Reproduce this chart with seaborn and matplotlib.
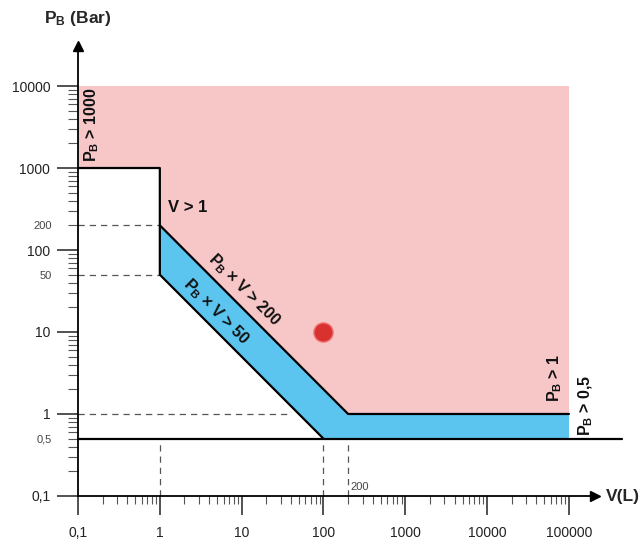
import matplotlib
matplotlib.use('Agg')
import matplotlib.pyplot as plt
import seaborn as sns

# tick values and labels
v_ticks = [0.1, 1, 10, 100, 1000, 10000, 100000]
v_labels = ['0,1', '1', '10', '100', '1000', '10000', '100000']
p_ticks = [0.1, 1, 10, 100, 1000, 10000]
p_labels = ['0,1', '1', '10', '100', '1000', '10000']
p_extra = [0.5, 50, 200]
p_extra_labels = ['0,5', '50', '200']

# coloured zones
pink_v = [0.1, 0.1, 100000, 100000, 200, 1, 1]
pink_p = [1000, 10000, 10000, 1, 1, 200, 1000]
blue_v = [1, 1, 200, 100000, 100000, 100]
blue_p = [50, 200, 1, 1, 0.5, 0.5]

# boundary lines
upper_v = [1, 200, 100000]
upper_p = [200, 1, 1]
lower_v = [0.1, 1, 1, 100]
lower_p = [1000, 1000, 50, 0.5]
base_v = [0.1, 450000]
base_p = [0.5, 0.5]

# point
point_v = [100]
point_p = [10]

sns.set_theme(style='white')
plt.rcParams['font.family'] = ['Liberation Sans', 'DejaVu Sans']
plt.rcParams['mathtext.fontset'] = 'custom'
plt.rcParams['mathtext.rm'] = 'Liberation Sans'
plt.rcParams['mathtext.bf'] = 'Liberation Sans:bold'

fig = plt.figure(figsize=(6.4, 5.41), dpi=100)
ax = fig.add_axes([0, 0, 1, 1])
ax.set_xscale('log')
ax.set_yscale('log')
ax.set_xlim(10 ** -1.9532, 10 ** 5.868)
ax.set_ylim(10 ** -1.549, 10 ** 5.049)
ax.patch.set_alpha(0)

ax.fill(pink_v, pink_p, color='#f7c6c7', lw=0, zorder=1)
ax.fill(blue_v, blue_p, color='#5bc5ef', lw=0, zorder=1)

# dashed helper lines
dash = dict(color='#555555', lw=0.9, ls=(0, (5, 4)), zorder=2)
ax.plot([0.1, 1], [200, 200], **dash)
ax.plot([0.1, 1], [50, 50], **dash)
ax.plot([0.1, 40], [1, 1], **dash)
for xv in [1, 100, 200]:
    ax.plot([xv, xv], [0.1, 0.44], **dash)

for vv, pp in [(upper_v, upper_p), (lower_v, lower_p), (base_v, base_p)]:
    sns.lineplot(x=vv, y=pp, sort=False, estimator=None, color='black',
                 lw=1.6, ax=ax, zorder=3)
ax.lines[-1].set_clip_on(False)

sns.scatterplot(x=point_v, y=point_p, s=190, color='#d93030',
                edgecolor='#f07070', linewidth=1, ax=ax, zorder=4)

# axes as arrows
for side in ['top', 'right']:
    ax.spines[side].set_visible(False)
ax.spines['left'].set_position(('data', 0.1))
ax.spines['bottom'].set_position(('data', 0.1))
ax.spines['left'].set_bounds(0.1, 28000)
ax.spines['bottom'].set_bounds(0.1, 190000)
for side in ['left', 'bottom']:
    ax.spines[side].set_color('black')
    ax.spines[side].set_linewidth(1.3)
    ax.spines[side].set_zorder(5)
ax.plot([0.1], [31000], marker='^', ms=7, color='black', clip_on=False)
ax.plot([208000], [0.1], marker='>', ms=7, color='black', clip_on=False)

ax.set_xticks(v_ticks, v_labels)
ax.set_yticks(p_ticks, p_labels)
x_minor = [m * 10 ** e for e in range(-1, 5) for m in range(2, 10)]
y_minor = [m * 10 ** e for e in range(-1, 4) for m in range(2, 10)]
ax.set_xticks(x_minor, minor=True)
ax.set_yticks(y_minor, ['' if v not in p_extra else p_extra_labels[p_extra.index(v)]
                        for v in y_minor], minor=True)
ax.tick_params(axis='x', which='major', direction='out', length=13.5, width=1.1,
               labelsize=10, pad=8, colors='#222222', bottom=True)
ax.tick_params(axis='x', which='minor', direction='out', length=5.5, width=0.8,
               color='#555555', bottom=True)
ax.tick_params(axis='y', which='major', direction='out', length=15, width=1.1,
               labelsize=10, pad=5, colors='#222222', left=True)
ax.tick_params(axis='y', which='minor', direction='out', length=7, width=0.8,
               labelsize=8, pad=12, color='#555555', labelcolor='#444444', left=True)

ax.text(212, 0.128, '200', fontsize=8, color='#444444', ha='left', va='center')

bold = dict(fontsize=11.5, fontweight='bold', color='#111111', ha='center', va='center')
ax.text(0.148, 3340, r'$\mathbf{P_B}$ > 1000', rotation=90, **bold)
ax.text(1.26, 334, 'V > 1', fontsize=12, fontweight='bold', color='#111111',
        ha='left', va='center')
ax.text(10.7, 32.5, r'$\mathbf{P_B}$ × V > 200', rotation=-45,
        rotation_mode='anchor', **bold)
ax.text(4.85, 17.5, r'$\mathbf{P_B}$ × V > 50', rotation=-45,
        rotation_mode='anchor', **bold)
ax.text(67400, 2.75, r'$\mathbf{P_B}$ > 1', rotation=90, **bold)
ax.text(161000, 1.29, r'$\mathbf{P_B}$ > 0,5', rotation=90, **bold)

fig.text(78 / 640, 1 - 18 / 541, r'$\mathbf{P_B}$ (Bar)', fontsize=12.5,
         fontweight='bold', ha='center', va='center')
fig.text(606 / 640, 1 - 496 / 541, 'V(L)', fontsize=12.5, fontweight='bold',
         ha='left', va='center')

fig.savefig('out.png', dpi=100)
